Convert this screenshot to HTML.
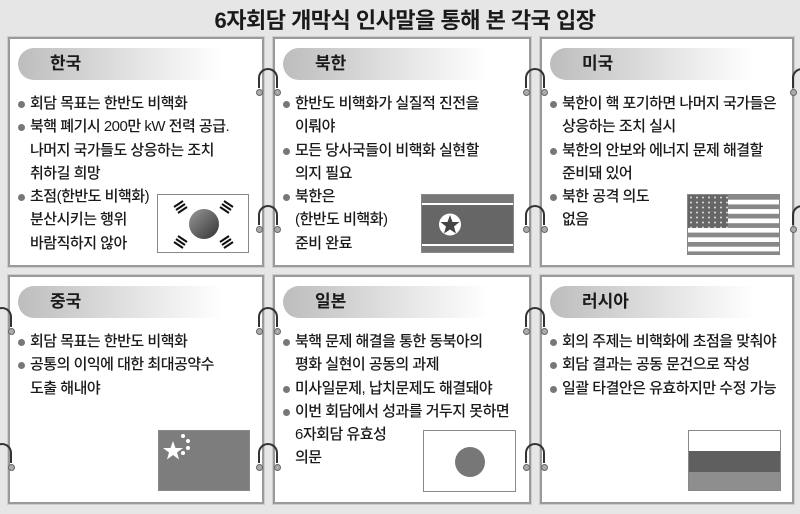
<!DOCTYPE html>
<html><head><meta charset="utf-8"><style>
*{margin:0;padding:0;box-sizing:border-box}
body{width:800px;height:514px;background:#e6e6e6;position:relative;overflow:hidden;font-family:"Liberation Sans","Noto Sans CJK KR","NanumGothic",sans-serif;color:#1a1a1a}
.title{position:absolute;left:0;top:3px;width:800px;text-align:center;font-size:22px;font-weight:bold;letter-spacing:-0.5px;padding-left:10px}
.p{position:absolute;background:#fff;border:2px solid #9a9a9a;outline:1px solid #ccc}
.pill{position:absolute;left:8px;top:9px;width:205px;height:32px;border-radius:16px 0 0 16px;background:linear-gradient(90deg,#bdbdbd,#e2e2e2 55%,#fff);font-weight:bold;font-size:17px;line-height:32px;padding-left:32px}
.t{position:absolute;left:8px;top:53px;font-size:15px;line-height:23.3px;letter-spacing:-0.5px;white-space:nowrap;font-weight:500}
.t div{padding-left:12px;position:relative}
.t .b::before{content:"";position:absolute;left:0;top:9px;width:7px;height:7px;border-radius:50%;background:#777}
.flag{position:absolute;border:1px solid #888;overflow:hidden;background:#fff}
.ring{position:absolute;width:20px;height:20px;border:2.5px solid #333;border-bottom:none;border-radius:10px 10px 0 0}
.ring::before,.ring::after{content:"";position:absolute;bottom:-8px;width:5px;height:5px;border-radius:50%;background:#aaa;border:1px solid #666}
.ring::before{left:-4.5px}.ring::after{right:-4.5px}
</style></head><body>
<div class="title">6자회담 개막식 인사말을 통해 본 각국 입장</div>

<div class="p" style="left:8px;top:37px;width:256px;height:230px">
<div class="pill">한국</div>
<div class="t"><div class="b">회담 목표는 한반도 비핵화</div><div class="b">북핵 폐기시 200만 kW 전력 공급.</div><div>나머지 국가들도 상응하는 조치</div><div>취하길 희망</div><div class="b">초점(한반도 비핵화)</div><div>분산시키는 행위</div><div>바람직하지 않아</div></div>
<div class="flag" style="left:147px;top:155px;width:92px;height:59px">
<svg width="92" height="59"><defs><linearGradient id="g" x1="0" y1="0" x2="1" y2="1"><stop offset="0" stop-color="#999"/><stop offset="1" stop-color="#333"/></linearGradient></defs><circle cx="46" cy="29" r="15" fill="url(#g)"/>
<g stroke="#111" stroke-width="2"><path d="M16 12l9-6M18 15l9-6M20 18l9-6M66 6l9 6M64 9l9 6M62 12l9 6M16 47l9 6M18 44l9 6M20 41l9 6M62 47l9-6M64 50l9-6M66 53l9-6"/></g></svg></div>
</div>

<div class="p" style="left:273px;top:37px;width:258px;height:230px">
<div class="pill">북한</div>
<div class="t"><div class="b">한반도 비핵화가 실질적 진전을</div><div>이뤄야</div><div class="b">모든 당사국들이 비핵화 실현할</div><div>의지 필요</div><div class="b">북한은</div><div>(한반도 비핵화)</div><div>준비 완료</div></div>
<div class="flag" style="left:146px;top:155px;width:93px;height:59px">
<svg width="93" height="59"><rect width="93" height="59" fill="#fff"/><rect y="0" width="93" height="8" fill="#777"/><rect y="51" width="93" height="8" fill="#777"/><rect y="10" width="93" height="39" fill="#666"/><circle cx="28" cy="29.5" r="11" fill="#fff"/><polygon points="28,20 30.5,27 37.5,27 32,31.5 34,38.5 28,34.5 22,38.5 24,31.5 18.5,27 25.5,27" fill="#444"/></svg></div>
</div>

<div class="p" style="left:540px;top:37px;width:254px;height:230px">
<div class="pill">미국</div>
<div class="t"><div class="b">북한이 핵 포기하면 나머지 국가들은</div><div>상응하는 조치 실시</div><div class="b">북한의 안보와 에너지 문제 해결할</div><div>준비돼 있어</div><div class="b">북한 공격 의도</div><div>없음</div></div>
<div class="flag" style="left:145px;top:155px;width:93px;height:61px">
<svg width="93" height="61"><rect width="93" height="61" fill="#fff"/><g fill="#888"><rect y="0" width="93" height="4.7"/><rect y="9.4" width="93" height="4.7"/><rect y="18.8" width="93" height="4.7"/><rect y="28.2" width="93" height="4.7"/><rect y="37.6" width="93" height="4.7"/><rect y="47" width="93" height="4.7"/><rect y="56.4" width="93" height="4.7"/></g><rect width="40" height="32.9" fill="#666"/>
<pattern id="s" width="6" height="5" patternUnits="userSpaceOnUse"><circle cx="3" cy="2.5" r="1" fill="#ddd"/></pattern><rect width="40" height="32.9" fill="url(#s)"/></svg></div>
</div>

<div class="p" style="left:8px;top:275px;width:256px;height:229px">
<div class="pill">중국</div>
<div class="t"><div class="b">회담 목표는 한반도 비핵화</div><div class="b">공통의 이익에 대한 최대공약수</div><div>도출 해내야</div></div>
<div class="flag" style="left:148px;top:153px;width:92px;height:61px;background:#7d7d7d">
<svg width="92" height="61" fill="#fff"><polygon points="14,10 16.5,17 24,17 18,21.5 20,28.5 14,24 8,28.5 10,21.5 4,17 11.5,17"/><circle cx="24" cy="5" r="2"/><circle cx="29" cy="10" r="2"/><circle cx="29" cy="17" r="2"/><circle cx="24" cy="22" r="2"/></svg></div>
</div>

<div class="p" style="left:273px;top:275px;width:258px;height:229px">
<div class="pill">일본</div>
<div class="t"><div class="b">북핵 문제 해결을 통한 동북아의</div><div>평화 실현이 공동의 과제</div><div class="b">미사일문제, 납치문제도 해결돼야</div><div class="b">이번 회담에서 성과를 거두지 못하면</div><div>6자회담 유효성</div><div>의문</div></div>
<div class="flag" style="left:148px;top:153px;width:93px;height:62px">
<svg width="93" height="62"><circle cx="46" cy="31" r="15" fill="#777"/></svg></div>
</div>

<div class="p" style="left:540px;top:275px;width:254px;height:229px">
<div class="pill">러시아</div>
<div class="t"><div class="b">회의 주제는 비핵화에 초점을 맞춰야</div><div class="b">회담 결과는 공동 문건으로 작성</div><div class="b">일괄 타결안은 유효하지만 수정 가능</div></div>
<div class="flag" style="left:146px;top:153px;width:93px;height:61px">
<svg width="93" height="61"><rect y="20" width="93" height="21" fill="#5f5f5f"/><rect y="41" width="93" height="20" fill="#8e8e8e"/></svg></div>
</div>

<div class="ring" style="left:258px;top:68px"></div>
<div class="ring" style="left:258px;top:205px"></div>
<div class="ring" style="left:525px;top:68px"></div>
<div class="ring" style="left:525px;top:205px"></div>
<div class="ring" style="left:258px;top:307px"></div>
<div class="ring" style="left:258px;top:443px"></div>
<div class="ring" style="left:525px;top:307px"></div>
<div class="ring" style="left:525px;top:443px"></div>
<div class="ring" style="left:-8px;top:307px"></div>
<div class="ring" style="left:-8px;top:443px"></div>
<div class="ring" style="left:792px;top:68px"></div>
<div class="ring" style="left:792px;top:205px"></div>
</body></html>
